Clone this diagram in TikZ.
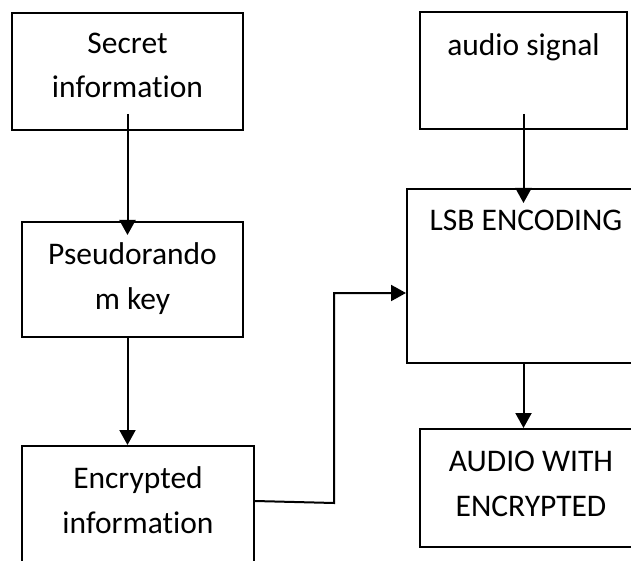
\documentclass[tikz,border=0pt]{standalone}
\usepackage{fontspec}
\setmainfont{Carlito}[Ligatures=NoCommon]
\usetikzlibrary{positioning,arrows.meta}

\begin{document}
\begin{tikzpicture}[x=1pt,y=-1pt,
    block/.style={draw,line width=2pt,inner sep=0pt},
    blocktext/.style={font=\fontsize{31.5}{44.5}\selectfont,align=center,
                      inner sep=0pt,anchor=base},
    flow/.style={line width=2pt,-{Triangle[length=15pt,width=16pt]}}
  ]
  \useasboundingbox (0,0) rectangle (631,561);
  \node[block,minimum width=231pt,minimum height=117pt] (secret) at (127.5,71.5) {};
  \node[block,minimum width=207pt,minimum height=117pt] (audio) at (523.5,70.5) {};
  \node[block,minimum width=221pt,minimum height=115pt] (pseudo) at (132.5,279.5) {};
  \node[block,minimum width=232pt,minimum height=154pt] (enc) at (138,523) {};
  \node[block,minimum width=238pt,minimum height=174pt] (lsb) at (526,276) {};
  \node[block,minimum width=222pt,minimum height=118pt] (stego) at (531,488) {};

  % base = baseline of the last line
  \node[blocktext] (secrettxt) at ([yshift=-86pt]secret.north) {Secret\\information};
  \node[blocktext] (audiotxt) at ([yshift=-45pt]audio.north) {audio signal};
  \node[blocktext] (pseudotxt) at ([yshift=-88pt]pseudo.north) {Pseudorando\\m key};
  \node[blocktext] (enctxt) at ([yshift=-88pt]enc.north) {Encrypted\\information};
  \node[blocktext] (lsbtxt) at ([yshift=-43pt]lsb.north) {LSB ENCODING};
  \node[blocktext] (stegotxt) at ([yshift=-88pt]stego.north) {AUDIO WITH\\ENCRYPTED};

  \coordinate (turn) at (334,503);
  \coordinate (entry) at (334,293);

  \draw[flow] ([yshift=17pt]secret.south) -- ([yshift=-14pt]secret.south |- pseudo.north);
  \draw[flow] (secret.south |- pseudo.south) -- (secret.south |- enc.north);
  \draw[flow] ([yshift=16pt]audio.south) -- ([yshift=-15pt]audio.south |- lsb.north);
  \draw[flow] (audio.south |- lsb.south) -- (audio.south |- stego.north);
  \draw[flow] ([yshift=22pt]enc.east) -- (turn) -- (entry) -- (entry -| lsb.west);
\end{tikzpicture}
\end{document}
